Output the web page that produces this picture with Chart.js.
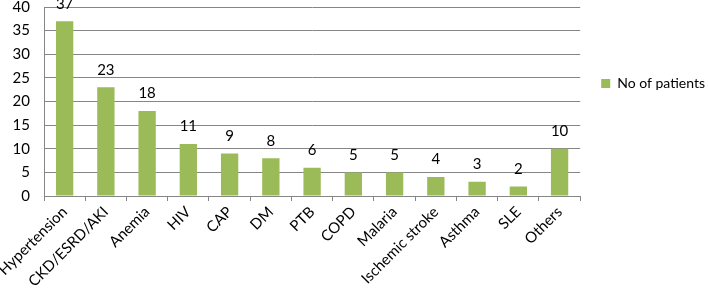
<!DOCTYPE html>
<html>
<head>
<meta charset="utf-8">
<script src="https://cdn.jsdelivr.net/npm/chart.js@4/dist/chart.umd.min.js"></script>
<style>
  html, body { margin: 0; padding: 0; background: #fff; }
  #wrap { width: 708px; height: 288px; }
</style>
</head>
<body>
<div id="wrap"><canvas id="chart" width="708" height="288"></canvas></div>
<script>
// categories and counts
const categories = ['Hypertension', 'CKD/ESRD/AKI', 'Anemia', 'HIV', 'CAP', 'DM', 'PTB', 'COPD', 'Malaria', 'Ischemic stroke', 'Asthma', 'SLE', 'Others'];
const patients = [37, 23, 18, 11, 9, 8, 6, 5, 5, 4, 3, 2, 10];
const seriesName = 'No of patients';
const yTicks = [0, 5, 10, 15, 20, 25, 30, 35, 40];

const fontFamily = 'Lato, "Open Sans", sans-serif';

// draws the value above each bar
const valueLabels = {
  id: 'valueLabels',
  afterDatasetsDraw(chart) {
    const ctx = chart.ctx;
    ctx.save();
    ctx.font = '15px ' + fontFamily;
    ctx.fillStyle = '#000';
    ctx.textAlign = 'center';
    ctx.textBaseline = 'bottom';
    chart.getDatasetMeta(0).data.forEach((bar, i) => {
      ctx.fillText(String(patients[i]), bar.x, bar.y - 10);
    });
    ctx.restore();
  }
};

// the legend sits a bit further right than chart.js puts it
const shiftLegend = {
  id: 'shiftLegend',
  afterLayout(chart) {
    chart.legend.left += 7;
    chart.legend.right += 7;
  }
};

new Chart(document.getElementById('chart'), {
  type: 'bar',
  data: {
    labels: categories,
    datasets: [{
      label: seriesName,
      data: patients,
      backgroundColor: '#9bbb59',
      borderWidth: 0,
      categoryPercentage: 1,
      barPercentage: 0.42
    }]
  },
  options: {
    responsive: false,
    animation: false,
    layout: { autoPadding: false, padding: { top: 7, left: 12, right: 0, bottom: 0 } },
    plugins: {
      tooltip: { enabled: false },
      legend: {
        position: 'right',
        align: 'start',
        title: { display: true, text: '', padding: { top: 41, bottom: 0 } },
        labels: {
          boxWidth: 9,
          boxHeight: 9,
          padding: 14,
          color: '#000',
          font: { family: fontFamily, size: 14 }
        }
      }
    },
    scales: {
      x: {
        afterFit(scale) {
          scale.paddingLeft = 0;
          scale.paddingRight = 0;
          scale.height = 92;
        },
        grid: {
          offset: true,
          drawOnChartArea: false,
          drawTicks: true,
          tickLength: 5,
          color: '#868686'
        },
        border: { color: '#868686' },
        ticks: {
          minRotation: 45,
          maxRotation: 45,
          autoSkip: false,
          padding: 2,
          color: '#000',
          font: { family: fontFamily, size: 15 }
        }
      },
      y: {
        min: 0,
        max: 40,
        afterBuildTicks(axis) {
          axis.ticks = yTicks.map(v => ({ value: v }));
        },
        afterFit(scale) {
          scale.paddingTop = 1;
          scale.paddingBottom = 1;
          scale.width = 32;
        },
        grid: { drawTicks: false, color: '#868686' },
        border: { color: '#868686' },
        ticks: {
          padding: 14,
          color: '#000',
          font: { family: fontFamily, size: 15 }
        }
      }
    }
  },
  plugins: [valueLabels, shiftLegend]
});
</script>
</body>
</html>
